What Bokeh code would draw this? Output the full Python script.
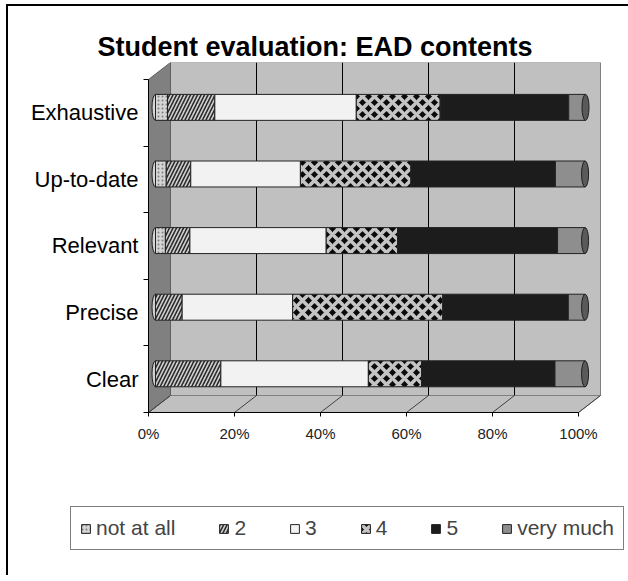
from bokeh.plotting import figure
from bokeh.models import (FixedTicker, PrintfTickFormatter, Legend, LegendItem,
                          ColumnDataSource, Range1d)
from bokeh.embed import file_html
from bokeh.resources import INLINE

# ---------------- data ----------------
categories = ["Clear", "Precise", "Relevant", "Up-to-date", "Exhaustive"]
series_names = ["not at all", "2", "3", "4", "5", "very much"]
not_at_all = [0.0, 0.0, 2.3, 2.5, 2.8]
two = [15.2, 6.2, 5.7, 5.7, 11.0]
three = [34.3, 25.7, 31.7, 25.5, 32.9]
four = [12.4, 34.9, 16.6, 25.7, 19.5]
five = [31.0, 29.2, 37.2, 33.6, 29.9]
very_much = [7.0, 3.9, 6.4, 6.9, 3.9]
x_ticks = [0, 20, 40, 60, 80, 100]
title_text = "Student evaluation: EAD contents"

series_values = [not_at_all, two, three, four, five, very_much]

# ---------------- styles ----------------
FONT = "Liberation Sans"
styles = [
    dict(fill_color="#d4d4d4", hatch_pattern=".", hatch_color="#808080", hatch_scale=4, hatch_weight=1),
    dict(fill_color="#cfcfcf", hatch_pattern="/", hatch_color="#2a2a2a", hatch_scale=7, hatch_weight=1.6),
    dict(fill_color="#f2f2f2"),
    dict(fill_color="#0a0a0a", hatch_pattern="x", hatch_color="#c4c4c4", hatch_scale=12, hatch_weight=3.6),
    dict(fill_color="#1c1c1c"),
    dict(fill_color="#8e8e8e"),
]

# geometry (pixels of the drawing area)
FRAME_W, FRAME_H = 620, 513
PX_X = 4.3            # pixels per percent
PX_Y = 350 / 5.255    # pixels per category step
ORIGIN_X = 140        # where 0 % sits, from the frame's left edge
BASE_Y = 163          # where the box's front bottom edge sits, from the frame's bottom
X_START, X_END = -ORIGIN_X / PX_X, (FRAME_W - ORIGIN_X) / PX_X
Y_START = -0.5 - BASE_Y / PX_Y
Y_END = Y_START + FRAME_H / PX_Y
wall_dx, wall_dy = 22 / PX_X, 17 / PX_Y     # depth of the 3-D box
bar_dx, bar_dy = 7 / PX_X, 5.4 / PX_Y       # bars sit inside the box
BAR_H = 0.39

p = figure(frame_width=FRAME_W, frame_height=FRAME_H,
           x_range=Range1d(X_START, X_END), y_range=Range1d(Y_START, Y_END),
           output_backend="svg", toolbar_location=None,
           min_border_left=0, min_border_right=0, min_border_top=56, min_border_bottom=0,
           styles={"margin-left": "6px", "margin-top": "4px",
                   "border-top": "2px solid black", "border-left": "2px solid black"})
p.outline_line_color = None
p.xgrid.visible = False
p.ygrid.visible = False
p.background_fill_color = "white"
p.border_fill_color = "white"

n = len(categories)
y_lo, y_hi = -0.5, n - 0.5
x_lo, x_hi = x_ticks[0], x_ticks[-1]

# back wall
p.quad(left=[x_lo + wall_dx], right=[x_hi + wall_dx], bottom=[y_lo + wall_dy], top=[y_hi + wall_dy],
       fill_color="#c0c0c0", line_color="#808080", line_width=1)
# floor
p.patch([x_lo, x_hi, x_hi + wall_dx, x_lo + wall_dx], [y_lo, y_lo, y_lo + wall_dy, y_lo + wall_dy],
        fill_color="#c0c0c0", line_color="#808080", line_width=1)
# left wall
p.patch([x_lo, x_lo + wall_dx, x_lo + wall_dx, x_lo], [y_lo, y_lo + wall_dy, y_hi + wall_dy, y_hi],
        fill_color="#808080", line_color="#606060", line_width=1)
# back wall grid lines
inner = x_ticks[1:-1]
p.segment(x0=[t + wall_dx for t in inner], y0=[y_lo + wall_dy] * len(inner),
          x1=[t + wall_dx for t in inner], y1=[y_hi + wall_dy] * len(inner),
          line_color="black", line_width=1)
# floor grid lines
p.segment(x0=x_ticks, y0=[y_lo] * len(x_ticks),
          x1=[t + wall_dx for t in x_ticks], y1=[y_lo + wall_dy] * len(x_ticks),
          line_color="#404040", line_width=1)

# bars
ys = [i + bar_dy for i in range(n)]
totals = [sum(s[i] for s in series_values) for i in range(n)]
first_color = [styles[0]["fill_color"] if not_at_all[i] > 0 else styles[1]["fill_color"] for i in range(n)]
p.ellipse(x=[bar_dx] * n, y=ys, width=7, height=26, width_units="screen", height_units="screen",
          fill_color=first_color, line_color="#202020", line_width=1)

left = [0.0] * n
renderers = []
for name, vals, st in zip(series_names, series_values, styles):
    right = [l + v for l, v in zip(left, vals)]
    src = ColumnDataSource(dict(y=ys, left=[l + bar_dx for l in left], right=[r + bar_dx for r in right]))
    r = p.hbar(y="y", left="left", right="right", height=BAR_H, source=src,
               line_color="#222222", line_width=1, **st)
    renderers.append(r)
    left = right

# right caps
p.ellipse(x=[t + bar_dx for t in totals], y=ys, width=7, height=26,
          width_units="screen", height_units="screen",
          fill_color="#5a5a5a", line_color="#202020", line_width=1)

# axes (placed at the front edges of the box)
ya = p.yaxis[0]
ya.fixed_location = x_lo
ya.ticker = FixedTicker(ticks=list(range(n)), minor_ticks=[i - 0.5 for i in range(n + 1)])
ya.major_label_overrides = {i: c for i, c in enumerate(categories)}
ya.major_tick_out = 0
ya.major_tick_in = 0
ya.minor_tick_out = 5
ya.minor_tick_in = 0
ya.bounds = (y_lo, y_hi)
ya.major_label_standoff = 5
ya.major_label_text_font = FONT
ya.major_label_text_font_size = "22px"
ya.major_label_text_color = "black"
ya.axis_line_color = "black"
ya.minor_tick_line_color = "black"

xa = p.xaxis[0]
xa.fixed_location = y_lo
xa.ticker = FixedTicker(ticks=x_ticks)
xa.formatter = PrintfTickFormatter(format="%d%%")
xa.bounds = (x_lo, x_hi)
xa.major_tick_out = 4
xa.major_tick_in = 0
xa.major_label_standoff = 8
xa.major_label_text_font = FONT
xa.major_label_text_font_size = "15px"
xa.major_label_text_color = "#222222"
xa.axis_line_color = "black"

# title
p.title.text = title_text
p.title.text_font = FONT
p.title.text_font_size = "27px"
p.title.text_font_style = "bold"
p.title.text_color = "black"
p.title.align = "left"
p.title.offset = 89
p.title.standoff = 2

# legend
legend = Legend(items=[LegendItem(label=nm, renderers=[r]) for nm, r in zip(series_names, renderers)],
                orientation="horizontal", location=(62, 25),
                label_text_font=FONT, label_text_font_size="21px",
                glyph_width=11, glyph_height=11, label_standoff=5, label_width=0,
                spacing=43, padding=9, margin=0,
                border_line_color="black", border_line_width=1,
                background_fill_color="white", background_fill_alpha=1)
p.add_layout(legend, "center")

open("out.html", "w").write(file_html(p, INLINE))
